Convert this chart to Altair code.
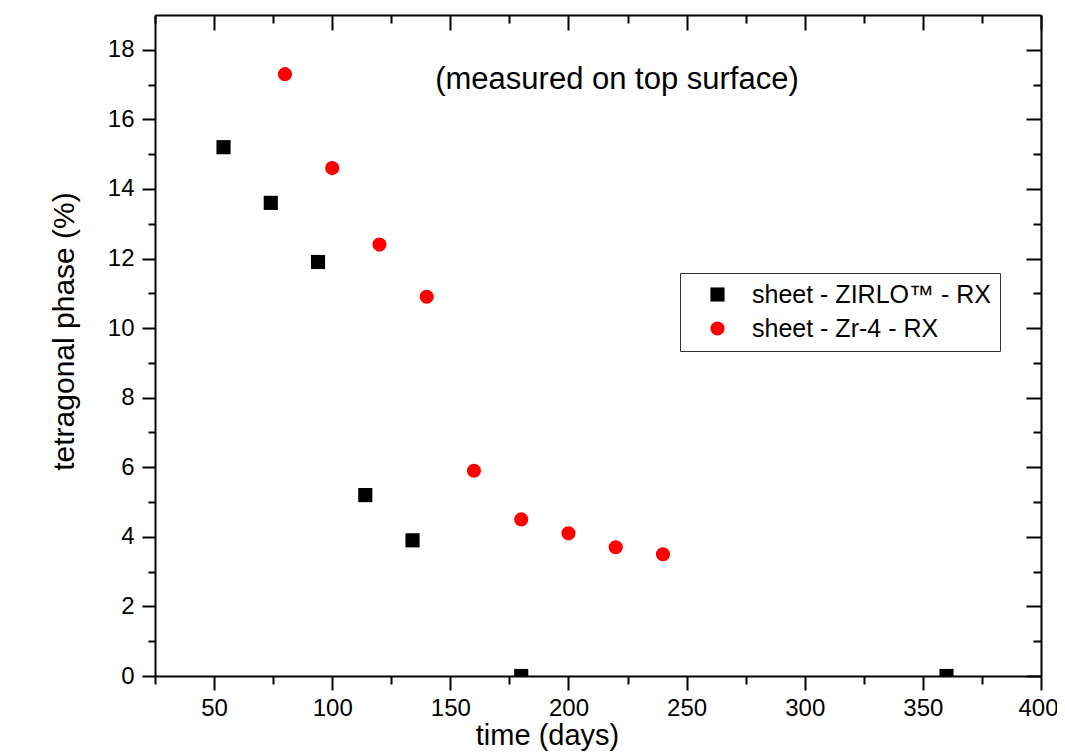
import altair as alt
import pandas as pd

# ---- data ----
zirlo_time = [54, 74, 94, 114, 134, 180, 360]
zirlo_phase = [15.2, 13.6, 11.9, 5.2, 3.9, 0.0, 0.0]
zr4_time = [80, 100, 120, 140, 160, 180, 200, 220, 240]
zr4_phase = [17.3, 14.6, 12.4, 10.9, 5.9, 4.5, 4.1, 3.7, 3.5]
series_names = ["sheet - ZIRLO\u2122 - RX", "sheet - Zr-4 - RX"]
series_colors = ["black", "red"]
series_shapes = ["square", "circle"]

x_major = [50, 100, 150, 200, 250, 300, 350, 400]
x_minor = [25, 75, 125, 175, 225, 275, 325, 375]
y_major = [0, 2, 4, 6, 8, 10, 12, 14, 16, 18]
y_minor = [1, 3, 5, 7, 9, 11, 13, 15, 17]

df = pd.DataFrame({
    "time": zirlo_time + zr4_time,
    "phase": zirlo_phase + zr4_phase,
    "series": [series_names[0]] * len(zirlo_time) + [series_names[1]] * len(zr4_time),
})

W, H = 886, 661
FONT = "Liberation Sans"

xscale = alt.Scale(domain=[25, 400], nice=False, zero=False)
yscale = alt.Scale(domain=[0, 19], nice=False, zero=False)

common = dict(grid=False, tickColor="black", tickWidth=2, domainColor="black",
              domainWidth=2, labelFont=FONT, labelColor="black", titleFont=FONT,
              titleColor="black", titleFontWeight="normal")

ax_bottom = alt.Axis(orient="bottom", values=x_major, tickSize=14, labelFontSize=24,
                     labelPadding=6, labelFlush=True, labelFlushOffset=17, labelOverlap=False,
                     title="time (days)", titleFontSize=29, titleX=392, titleY=45,
                     titleBaseline="top", titleAlign="center", **common)
ax_bottom_minor = alt.Axis(orient="bottom", values=x_minor, tickSize=8, labels=False,
                           domain=False, title="", **common)
ax_top = alt.Axis(orient="bottom", offset=-H, values=x_major, tickSize=15, labels=False,
                  title="", **common)
ax_top_minor = alt.Axis(orient="bottom", offset=-H, values=x_minor, tickSize=8, labels=False,
                        domain=False, title="", **common)

ax_left = alt.Axis(orient="left", values=y_major, tickSize=13, labelFontSize=24,
                   labelPadding=8, labelFlush=False, labelOverlap=False,
                   title="tetragonal phase (%)", titleFontSize=30, titlePadding=28,
                   titleY=316, **common)
ax_left_minor = alt.Axis(orient="left", values=y_minor, tickSize=7, labels=False,
                         domain=False, title="", **common)
ax_right = alt.Axis(orient="left", offset=-W, values=y_major, tickSize=15, labels=False,
                    title="", **common)
ax_right_minor = alt.Axis(orient="left", offset=-W, values=y_minor, tickSize=8, labels=False,
                          domain=False, title="", **common)

legend = alt.Legend(title=None, orient="none", legendX=525, legendY=258,
                    labelFontSize=25, labelFont=FONT, labelColor="black", labelLimit=500,
                    symbolSize=200, symbolStrokeWidth=0, symbolOpacity=1,
                    strokeColor="#333333", fillColor="white", padding=9,
                    rowPadding=8, symbolOffset=16, labelOffset=22)

base = alt.Chart(df)

points = base.mark_point(filled=True, size=200, opacity=1, clip=True).encode(
    x=alt.X("time:Q", scale=xscale, axis=ax_bottom),
    y=alt.Y("phase:Q", scale=yscale, axis=ax_left),
    color=alt.Color("series:N", scale=alt.Scale(domain=series_names, range=series_colors), legend=legend),
    shape=alt.Shape("series:N", scale=alt.Scale(domain=series_names, range=series_shapes), legend=legend),
)

minor = base.mark_point(opacity=0).encode(
    x=alt.X("time:Q", scale=xscale, axis=ax_bottom_minor),
    y=alt.Y("phase:Q", scale=yscale, axis=ax_left_minor),
)
mirror = base.mark_point(opacity=0).encode(
    x=alt.X("time:Q", scale=xscale, axis=ax_top),
    y=alt.Y("phase:Q", scale=yscale, axis=ax_right),
)
mirror_minor = base.mark_point(opacity=0).encode(
    x=alt.X("time:Q", scale=xscale, axis=ax_top_minor),
    y=alt.Y("phase:Q", scale=yscale, axis=ax_right_minor),
)

note = alt.Chart(pd.DataFrame({"t": ["(measured on top surface)"]})).mark_text(
    font=FONT, fontSize=31, color="black", align="center", baseline="middle"
).encode(text="t:N", x=alt.value(462), y=alt.value(65))

chart = alt.layer(minor, mirror, mirror_minor, points, note).resolve_axis(
    x="independent", y="independent"
).properties(
    width=W, height=H,
    autosize=alt.AutoSizeParams(type="none"),
    padding={"left": 147, "top": 7, "right": 16, "bottom": 78},
).configure_view(stroke=None).configure(background="white")

chart.save("out.html", embed_options={"renderer": "svg", "actions": False})
